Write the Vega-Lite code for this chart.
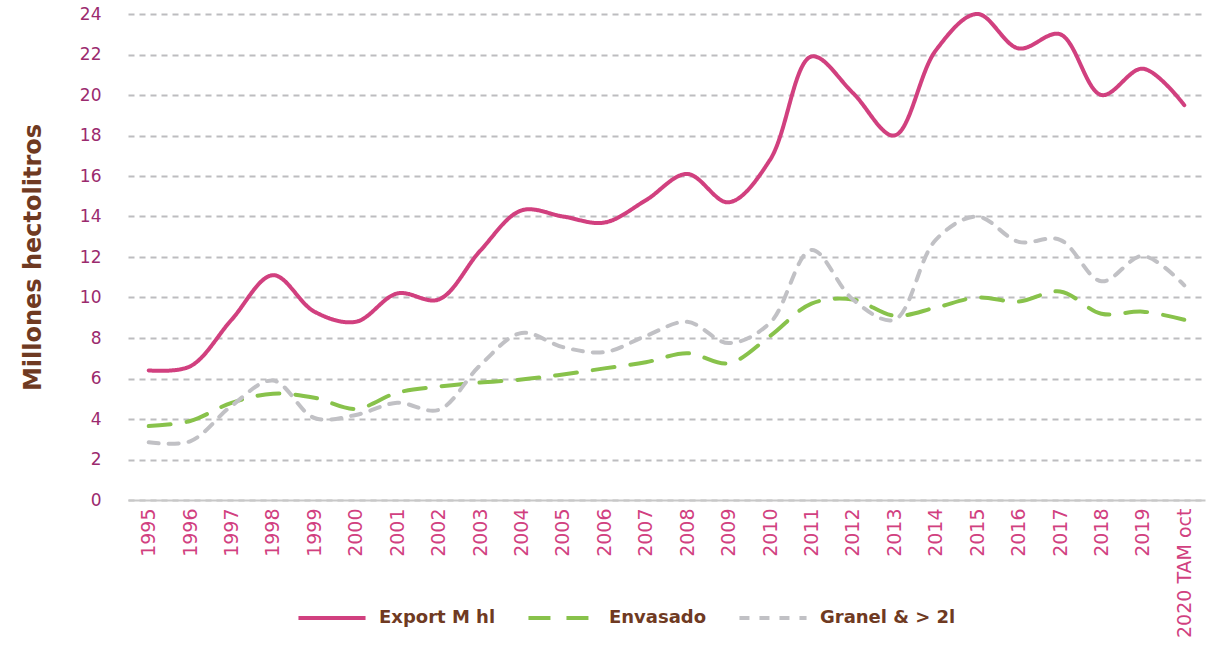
{
  "$schema": "https://vega.github.io/schema/vega-lite/v6.json",
  "width": 1077,
  "height": 486,
  "autosize": {"type": "none"},
  "padding": {"left": 128, "top": 14, "right": 3, "bottom": 158},
  "background": "white",
  "config": {
    "font": "DejaVu Sans",
    "view": {"stroke": null}
  },
  "data": {
    "values": [
      {"year": "1995", "Export M hl": 6.4, "Envasado": 3.65, "Granel & > 2l": 2.85},
      {"year": "1996", "Export M hl": 6.6, "Envasado": 3.9, "Granel & > 2l": 2.9},
      {"year": "1997", "Export M hl": 8.9, "Envasado": 4.8, "Granel & > 2l": 4.65},
      {"year": "1998", "Export M hl": 11.1, "Envasado": 5.25, "Granel & > 2l": 5.9},
      {"year": "1999", "Export M hl": 9.3, "Envasado": 5.05, "Granel & > 2l": 4.05},
      {"year": "2000", "Export M hl": 8.8, "Envasado": 4.5, "Granel & > 2l": 4.2},
      {"year": "2001", "Export M hl": 10.2, "Envasado": 5.3, "Granel & > 2l": 4.8},
      {"year": "2002", "Export M hl": 9.9, "Envasado": 5.6, "Granel & > 2l": 4.45},
      {"year": "2003", "Export M hl": 12.3, "Envasado": 5.8, "Granel & > 2l": 6.65},
      {"year": "2004", "Export M hl": 14.3, "Envasado": 5.95, "Granel & > 2l": 8.25},
      {"year": "2005", "Export M hl": 14.0, "Envasado": 6.2, "Granel & > 2l": 7.55},
      {"year": "2006", "Export M hl": 13.7, "Envasado": 6.5, "Granel & > 2l": 7.3},
      {"year": "2007", "Export M hl": 14.8, "Envasado": 6.8, "Granel & > 2l": 8.1},
      {"year": "2008", "Export M hl": 16.1, "Envasado": 7.25, "Granel & > 2l": 8.8},
      {"year": "2009", "Export M hl": 14.7, "Envasado": 6.75, "Granel & > 2l": 7.75},
      {"year": "2010", "Export M hl": 16.8, "Envasado": 8.1, "Granel & > 2l": 8.75},
      {"year": "2011", "Export M hl": 21.9, "Envasado": 9.7, "Granel & > 2l": 12.35},
      {"year": "2012", "Export M hl": 20.1, "Envasado": 9.9, "Granel & > 2l": 9.9},
      {"year": "2013", "Export M hl": 18.0, "Envasado": 9.1, "Granel & > 2l": 8.9},
      {"year": "2014", "Export M hl": 22.2, "Envasado": 9.5, "Granel & > 2l": 12.85},
      {"year": "2015", "Export M hl": 24.0, "Envasado": 10.0, "Granel & > 2l": 14.0},
      {"year": "2016", "Export M hl": 22.3, "Envasado": 9.8, "Granel & > 2l": 12.75},
      {"year": "2017", "Export M hl": 23.0, "Envasado": 10.3, "Granel & > 2l": 12.85},
      {"year": "2018", "Export M hl": 20.0, "Envasado": 9.2, "Granel & > 2l": 10.8},
      {"year": "2019", "Export M hl": 21.3, "Envasado": 9.3, "Granel & > 2l": 12.05},
      {"year": "2020 TAM oct", "Export M hl": 19.5, "Envasado": 8.9, "Granel & > 2l": 10.6}
    ]
  },
  "transform": [
    {"fold": ["Export M hl", "Envasado", "Granel & > 2l"], "as": ["serie", "value"]}
  ],
  "mark": {"type": "line", "interpolate": "catmull-rom", "strokeWidth": 4, "strokeCap": "round"},
  "encoding": {
    "x": {
      "field": "year",
      "type": "nominal",
      "sort": null,
      "scale": {"type": "point", "padding": 0.5},
      "axis": {
        "title": null,
        "labelAngle": -90,
        "labelAlign": "right",
        "labelBaseline": "middle",
        "labelFontSize": 19,
        "labelColor": "#d1407f",
        "labelPadding": 8,
        "ticks": false,
        "grid": false,
        "domain": true,
        "domainColor": "#c8c8c8",
        "domainWidth": 2
      }
    },
    "y": {
      "field": "value",
      "type": "quantitative",
      "scale": {"domain": [0, 24], "nice": false},
      "axis": {
        "title": "Millones hectolitros",
        "titleFontSize": 24,
        "titleFontWeight": "bold",
        "titleColor": "#6f3a22",
        "titlePadding": 34,
        "values": [0, 2, 4, 6, 8, 10, 12, 14, 16, 18, 20, 22, 24],
        "labelFontSize": 17,
        "labelColor": "#9b2a6e",
        "labelPadding": 27,
        "ticks": false,
        "domain": false,
        "grid": true,
        "gridColor": "#bdbdc0",
        "gridWidth": 2,
        "gridDash": [6, 5]
      }
    },
    "color": {
      "field": "serie",
      "type": "nominal",
      "sort": ["Export M hl", "Envasado", "Granel & > 2l"],
      "scale": {
        "domain": ["Export M hl", "Envasado", "Granel & > 2l"],
        "range": ["#d1407f", "#88c24b", "#c1c1c5"]
      },
      "legend": {
        "title": null,
        "orient": "none",
        "direction": "horizontal",
        "gridAlign": "none",
        "legendX": 168,
        "legendY": 568,
        "symbolType": "stroke",
        "symbolSize": 4500,
        "symbolStrokeWidth": 4,
        "labelFontSize": 18,
        "labelFontWeight": "bold",
        "labelColor": "#6f3a22",
        "labelOffset": 11,
        "columnPadding": 24,
        "symbolOpacity": 1
      }
    },
    "strokeDash": {
      "field": "serie",
      "type": "nominal",
      "sort": ["Export M hl", "Envasado", "Granel & > 2l"],
      "scale": {
        "domain": ["Export M hl", "Envasado", "Granel & > 2l"],
        "range": [[1, 0], [22, 16], [10, 10]]
      },
      "legend": null
    }
  }
}
